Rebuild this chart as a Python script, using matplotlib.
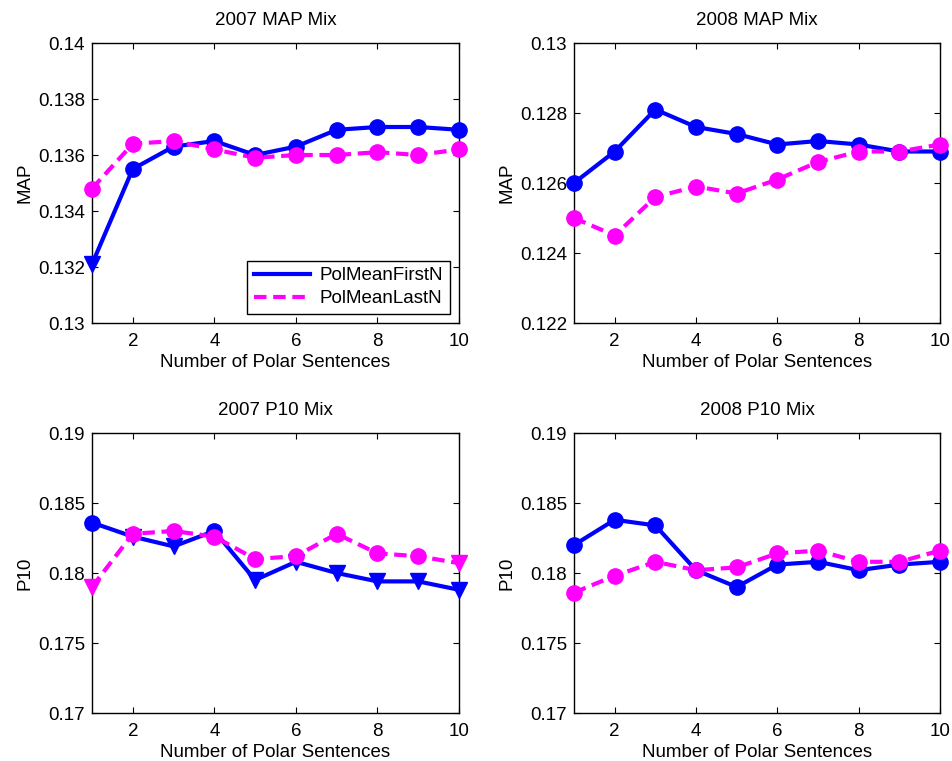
import matplotlib
matplotlib.use('Agg')
import matplotlib.pyplot as plt
from matplotlib.ticker import FuncFormatter, MultipleLocator
from matplotlib.lines import Line2D

plt.rcParams['font.family'] = ['Liberation Sans', 'DejaVu Sans']
plt.rcParams['font.size'] = 13.5

# number of polar sentences
n_sent = [1, 2, 3, 4, 5, 6, 7, 8, 9, 10]

# 2007 MAP
map07_first = [0.1321, 0.1355, 0.1363, 0.1365, 0.1360, 0.1363, 0.1369, 0.1370, 0.1370, 0.1369]
map07_last = [0.1348, 0.1364, 0.1365, 0.1362, 0.1359, 0.1360, 0.1360, 0.1361, 0.1360, 0.1362]
map07_first_mk = 'vooooooooo'
map07_last_mk = 'oooooooooo'

# 2008 MAP
map08_first = [0.1260, 0.1269, 0.1281, 0.1276, 0.1274, 0.1271, 0.1272, 0.1271, 0.1269, 0.1269]
map08_last = [0.1250, 0.1245, 0.1256, 0.1259, 0.1257, 0.1261, 0.1266, 0.1269, 0.1269, 0.1271]
map08_first_mk = 'oooooooooo'
map08_last_mk = 'oooooooooo'

# 2007 P10
p10_07_first = [0.1836, 0.1826, 0.1819, 0.1830, 0.1795, 0.1808, 0.1800, 0.1794, 0.1794, 0.1788]
p10_07_last = [0.1790, 0.1828, 0.1830, 0.1826, 0.1810, 0.1812, 0.1828, 0.1814, 0.1812, 0.1807]
p10_07_first_mk = 'ovvovvvvvv'
p10_07_last_mk = 'voooooooov'

# 2008 P10
p10_08_first = [0.1820, 0.1838, 0.1834, 0.1802, 0.1790, 0.1806, 0.1808, 0.1802, 0.1806, 0.1808]
p10_08_last = [0.1786, 0.1798, 0.1808, 0.1802, 0.1804, 0.1814, 0.1816, 0.1808, 0.1808, 0.1816]
p10_08_first_mk = 'oooooooooo'
p10_08_last_mk = 'oooooooooo'

panels = [
    ('2007 MAP Mix', 'MAP', map07_first, map07_last, map07_first_mk, map07_last_mk, (0.13, 0.14), 0.002),
    ('2008 MAP Mix', 'MAP', map08_first, map08_last, map08_first_mk, map08_last_mk, (0.122, 0.13), 0.002),
    ('2007 P10 Mix', 'P10', p10_07_first, p10_07_last, p10_07_first_mk, p10_07_last_mk, (0.17, 0.19), 0.005),
    ('2008 P10 Mix', 'P10', p10_08_first, p10_08_last, p10_08_first_mk, p10_08_last_mk, (0.17, 0.19), 0.005),
]

W, H = 953, 761
# axes boxes in pixels: left, top, right, bottom
boxes = [(92, 43, 459, 323), (574, 43, 940, 323), (92, 433, 459, 713), (574, 433, 940, 713)]

fig = plt.figure(figsize=(W / 100, H / 100), dpi=100)

blue = '#0000ff'
magenta = '#ff00ff'
dash = (3.0, 1.6)


def draw(ax, y, mk, color, ls):
    ax.plot(n_sent, y, color=color, ls=ls, lw=3, dashes=dash if ls == '--' else (None, None), clip_on=False, zorder=2)
    for m in set(mk):
        xs = [x for x, k in zip(n_sent, mk) if k == m]
        ys = [v for v, k in zip(y, mk) if k == m]
        ax.plot(xs, ys, ls='none', marker=m, color=color, markersize=11 if m == 'o' else 12,
                clip_on=False, zorder=3)


for (title, ylab, first, last, fmk, lmk, ylim, step), (l, t, r, b) in zip(panels, boxes):
    ax = fig.add_axes([l / W, (H - b) / H, (r - l) / W, (b - t) / H])
    draw(ax, first, fmk, blue, '-')
    draw(ax, last, lmk, magenta, '--')
    ax.set_xlim(1, 10)
    ax.set_ylim(*ylim)
    ax.set_xticks([2, 4, 6, 8, 10])
    ax.yaxis.set_major_locator(MultipleLocator(step))
    ax.yaxis.set_major_formatter(FuncFormatter(lambda v, p: '%g' % round(v, 4)))
    ax.tick_params(direction='in', top=True, right=True, length=4, width=0.8, labelsize=13.5)
    ax.tick_params(axis='x', pad=7)
    ax.tick_params(axis='y', pad=5)
    ax.set_title(title, fontsize=13.5, pad=13)
    ax.set_xlabel('Number of Polar Sentences', fontsize=13.5, labelpad=3)
    ax.set_ylabel(ylab, fontsize=13.5, labelpad=3)
    for s in ax.spines.values():
        s.set_linewidth(1.0)
    if title == '2007 MAP Mix':
        handles = [Line2D([], [], color=blue, lw=3),
                   Line2D([], [], color=magenta, lw=3, ls='--', dashes=dash)]
        leg = ax.legend(handles, ['PolMeanFirstN', 'PolMeanLastN'], loc='lower right',
                        fancybox=False, framealpha=1, edgecolor='black', fontsize=13.5,
                        handlelength=3.0, borderaxespad=0.5, labelspacing=0.3,
                        borderpad=0.35, handletextpad=0.5)
        leg.get_frame().set_linewidth(1.0)

fig.savefig('out.png', dpi=100)
